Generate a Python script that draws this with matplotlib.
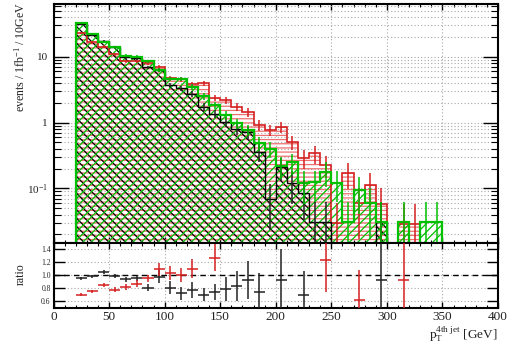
import numpy as np
import matplotlib
matplotlib.use('Agg')
import matplotlib.pyplot as plt
from matplotlib.ticker import FixedLocator, FixedFormatter, MultipleLocator, LogLocator, NullFormatter

plt.rcParams['font.family'] = 'Liberation Serif'
plt.rcParams['mathtext.fontset'] = 'custom'
plt.rcParams['mathtext.rm'] = 'Liberation Serif'
plt.rcParams['mathtext.it'] = 'Liberation Serif:italic'
plt.rcParams['hatch.linewidth'] = 0.9

# 10 GeV bins from 20 to 350 GeV
edges = np.arange(20, 351, 10)
centers = edges[:-1] + 5

green = [33, 22, 16.7, 14, 10.4, 10, 8.5, 6.4, 4.6, 4.6, 3.5, 2.5, 1.85, 1.3, 0.97, 0.77,
         0.49, 0.40, 0.22, 0.25, 0.12, 0.124, 0.18, 0.123, 0.031, 0.095, 0.06, 0.031, 0,
         0.031, 0, 0.031, 0.031]
black = [31.4, 21.7, 17.5, 13.9, 9.8, 9.5, 6.9, 6.3, 3.7, 3.3, 2.7, 1.75, 1.37, 1.03, 0.81,
         0.72, 0.36, 0.07, 0.21, 0.12, 0.085, 0.031, 0.031, 0, 0, 0, 0, 0.031, 0, 0, 0, 0, 0]
red = [23.1, 16.5, 14.2, 10.9, 8.5, 8.7, 8.1, 7.0, 4.7, 4.55, 3.85, 4.0, 2.37, 2.2, 1.75,
       1.44, 0.92, 0.77, 0.87, 0.51, 0.29, 0.34, 0.23, 0.03, 0.17, 0.06, 0.113, 0.058, 0,
       0.029, 0.029, 0, 0]
event_weight = 0.031

# ratios to the green sample
black_ratio_x = [25, 35, 45, 55, 65, 75, 85, 95, 105, 115, 125, 135, 145, 155, 165, 175,
                 185, 205, 225, 295]
black_ratio = [0.95, 0.985, 1.05, 0.99, 0.94, 0.95, 0.81, 0.975, 0.805, 0.72, 0.77, 0.70,
               0.74, 0.79, 0.835, 0.93, 0.74, 0.93, 0.70, 0.93]
black_ratio_err = [0.02, 0.025, 0.035, 0.035, 0.04, 0.045, 0.05, 0.1, 0.1, 0.1, 0.12, 0.1,
                   0.12, 0.18, 0.23, 0.29, 0.30, 0.47, 0.37, 1.0]
red_ratio_x = [25, 35, 45, 55, 65, 75, 85, 95, 105, 115, 125, 145, 245, 275, 315]
red_ratio = [0.70, 0.75, 0.85, 0.78, 0.82, 0.87, 0.95, 1.09, 1.03, 1.0, 1.1, 1.27, 1.24,
             0.615, 0.93]
red_ratio_err = [0.02, 0.025, 0.03, 0.035, 0.04, 0.05, 0.06, 0.1, 0.11, 0.11, 0.15, 0.21,
                 0.5, 0.46, 1.0]

RED = '#d42020'
RED_HATCH = '#ee7070'
GREEN = '#00c000'
GRID = dict(color='#a8a8a8', linestyle=(0, (1, 2)), linewidth=0.8)

fig = plt.figure(figsize=(5.22, 3.45), dpi=100)
ax = fig.add_axes([0.1025, 0.2965, 0.8515, 0.6915])
rax = fig.add_axes([0.1025, 0.108, 0.8515, 0.1885])

base = 1e-3
ax.set_yscale('log')

# hatched fills
ax.stairs(red, edges, baseline=base, fill=True, facecolor='none', edgecolor=RED_HATCH,
          hatch='----', linewidth=0, zorder=2)
ax.stairs(black, edges, baseline=base, fill=True, facecolor='none', edgecolor='black',
          hatch='\\\\\\\\', linewidth=0, zorder=2.1)
ax.stairs(green, edges, baseline=base, fill=True, facecolor='none', edgecolor=GREEN,
          hatch='////', linewidth=0, zorder=2.2)

# outlines
ax.stairs(red, edges, baseline=base, color=RED, linewidth=1.2, zorder=3)
ax.stairs(black, edges, baseline=base, color='black', linewidth=1.0, zorder=3.1)
ax.stairs(green, edges, baseline=base, color=GREEN, linewidth=1.6, zorder=3.2)

# statistical error bars
for vals, col in [(red, RED), (black, '#222222'), (green, GREEN)]:
    v = np.array(vals, dtype=float)
    m = v > 0
    err = np.sqrt(v[m] * event_weight)
    ax.vlines(centers[m], np.maximum(v[m] - err, base), v[m] + err, colors=col,
              linewidth=1.1, zorder=4)

ax.set_xlim(0, 400)
ax.set_ylim(0.015, 63)
ax.yaxis.set_major_locator(FixedLocator([0.1, 1, 10]))
ax.yaxis.set_major_formatter(FixedFormatter(['$10^{-1}$', '1', '10']))
ax.yaxis.set_minor_locator(LogLocator(base=10, subs=np.arange(2, 10), numticks=20))
ax.yaxis.set_minor_formatter(NullFormatter())
ax.xaxis.set_major_locator(MultipleLocator(50))
ax.xaxis.set_minor_locator(MultipleLocator(10))
ax.tick_params(axis='x', labelbottom=False)
ax.grid(True, which='both', axis='y', **GRID)
ax.grid(True, which='major', axis='x', **GRID)
ax.set_axisbelow(True)

# ratio panel
rax.axhline(1.0, color='black', linestyle=(0, (4, 3)), linewidth=1.0, zorder=2)
rax.errorbar(black_ratio_x, black_ratio, xerr=5, yerr=black_ratio_err, fmt='none',
             ecolor='#222222', elinewidth=1.1, capsize=0, zorder=3)
rax.errorbar(red_ratio_x, red_ratio, xerr=5, yerr=red_ratio_err, fmt='none',
             ecolor=RED, elinewidth=1.1, capsize=0, zorder=3)
rax.set_xlim(0, 400)
rax.set_ylim(0.5, 1.5)
rax.yaxis.set_major_locator(FixedLocator([0.6, 0.8, 1.0, 1.2, 1.4]))
rax.yaxis.set_major_formatter(FixedFormatter(['0.6', '0.8', '1.0', '1.2', '1.4']))
rax.xaxis.set_major_locator(MultipleLocator(50))
rax.xaxis.set_minor_locator(MultipleLocator(10))
rax.grid(True, which='major', **GRID)
rax.set_axisbelow(True)

for a in (ax, rax):
    for s in a.spines.values():
        s.set_linewidth(1.5)
    a.tick_params(which='both', direction='in', top=True, right=True, colors='black',
                  labelcolor='#222222')
    a.tick_params(axis='x', which='major', length=4.5, width=1.0)
    a.tick_params(axis='x', which='minor', length=2.2, width=0.8)

ax.tick_params(axis='y', which='major', length=10.5, width=1.0, labelsize=8, pad=4)
ax.tick_params(axis='y', which='minor', length=5, width=0.8)
rax.tick_params(axis='y', which='major', length=8, width=1.0, labelsize=5.5, pad=2)
rax.tick_params(axis='x', which='major', labelsize=9.5, pad=2)

fig.text(20 / 522, 1 - 2 / 345, 'events / 1fb$^{-1}$ / 10GeV', rotation=90,
         ha='center', va='top', fontsize=8.6, color='#222222')
fig.text(21 / 522, 1 - 274 / 345, 'ratio', rotation=90, ha='center', va='center',
         fontsize=8.6, color='#222222')
fig.text(498 / 522, 1 - 338.5 / 345, r'p$_{\rm T}^{\rm 4th\ jet}$ [GeV]', ha='right',
         va='baseline', fontsize=9.5, color='#222222')

fig.savefig('out.png', dpi=100)
